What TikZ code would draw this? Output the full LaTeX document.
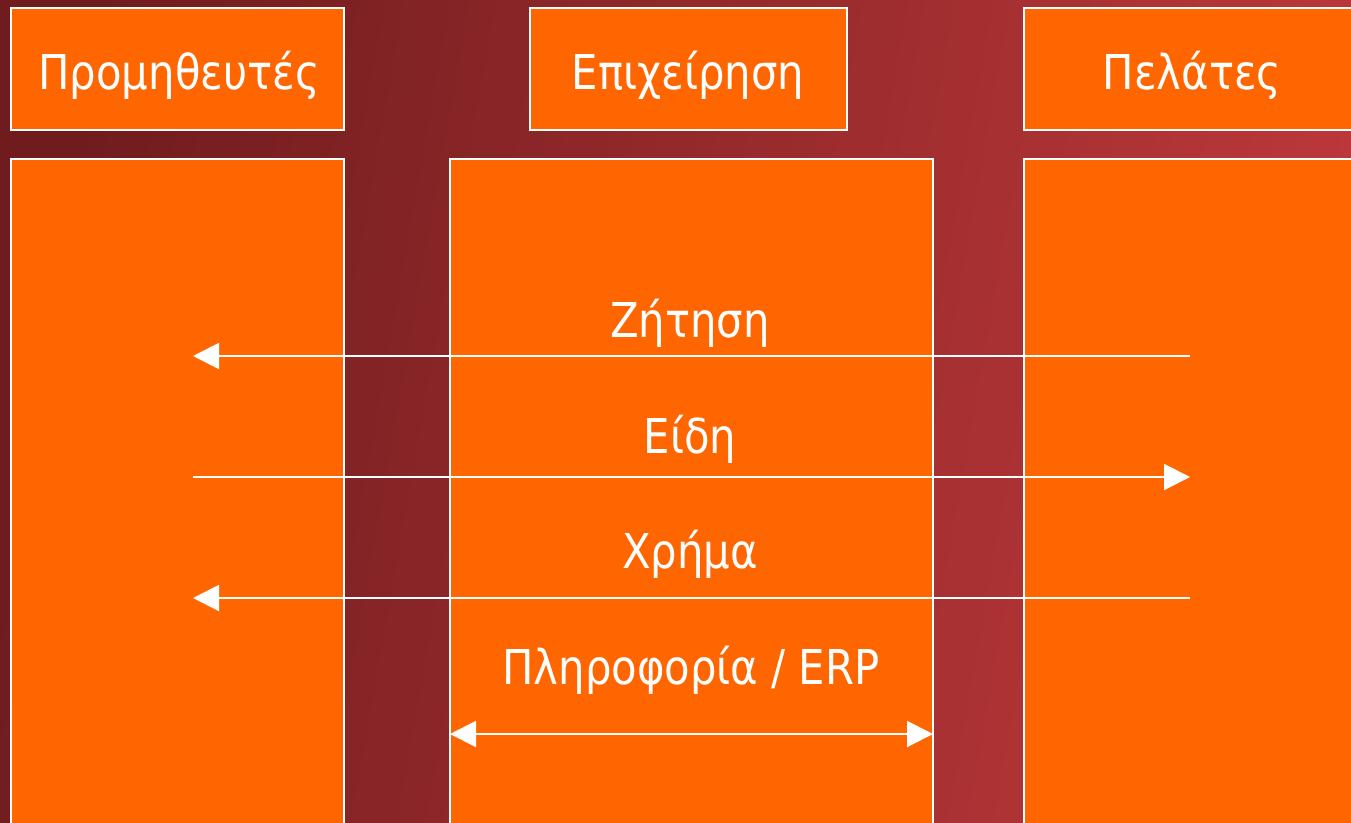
\documentclass[tikz,border=0pt]{standalone}
\usepackage{fontspec}
\setmainfont{DejaVu Sans}
\usetikzlibrary{arrows.meta}
\definecolor{orng}{RGB}{255,102,0}
\definecolor{bgL}{RGB}{112,28,30}
\definecolor{bgR}{RGB}{188,56,58}
\newcommand{\nlbl}[1]{\scalebox{0.87}[1]{#1}}
\tikzset{
  box/.style={draw=white, line width=2pt, fill=orng},
  lbl/.style={text=white, font=\fontsize{48}{54}\selectfont, anchor=base, inner sep=0pt},
  flow/.style={draw=white, line width=2pt, -{Triangle[length=26pt,width=26pt]}},
  bflow/.style={draw=white, line width=2pt, {Triangle[length=26pt,width=26pt]}-{Triangle[length=26pt,width=26pt]}}
}
\begin{document}
\begin{tikzpicture}[x=1pt,y=-1pt]
\clip (0,0) rectangle (1351,822);
\shade[left color=bgL, right color=bgR, shading angle=80] (0,0) rectangle (1351,822);
% top boxes
\draw[box] (11,8) rectangle (344,130);
\draw[box] (530,8) rectangle (847,130);
\draw[box] (1024,8) rectangle (1362,130);
% columns
\draw[box] (11,159) rectangle (344,840);
\draw[box] (450,159) rectangle (933,840);
\draw[box] (1024,159) rectangle (1362,840);
% labels
\node[lbl] (tsup) at (179,89) {\nlbl{Προμηθευτές}};
\node[lbl] (tbiz) at (688,89) {\nlbl{Επιχείρηση}};
\node[lbl] (tcus) at (1192,89) {\nlbl{Πελάτες}};
\node[lbl] (ldem) at (690,337) {\nlbl{Ζήτηση}};
\node[lbl] (lgoo) at (690,453) {\nlbl{Είδη}};
\node[lbl] (lmon) at (690,568) {\nlbl{Χρήμα}};
\node[lbl] (linf) at (691,684) {\nlbl{Πληροφορία / ERP}};
% coordinates
\coordinate (sd) at (193,356);
\coordinate (cd) at (1190,356);
\coordinate (sg) at (193,477);
\coordinate (cg) at (1190,477);
\coordinate (sm) at (193,598);
\coordinate (cm) at (1190,598);
\coordinate (bl) at (450,734);
\coordinate (br) at (933,734);
\draw[flow] (cd) -- (sd);
\draw[flow] (sg) -- (cg);
\draw[flow] (cm) -- (sm);
\draw[bflow] (bl) -- (br);
\end{tikzpicture}
\end{document}
